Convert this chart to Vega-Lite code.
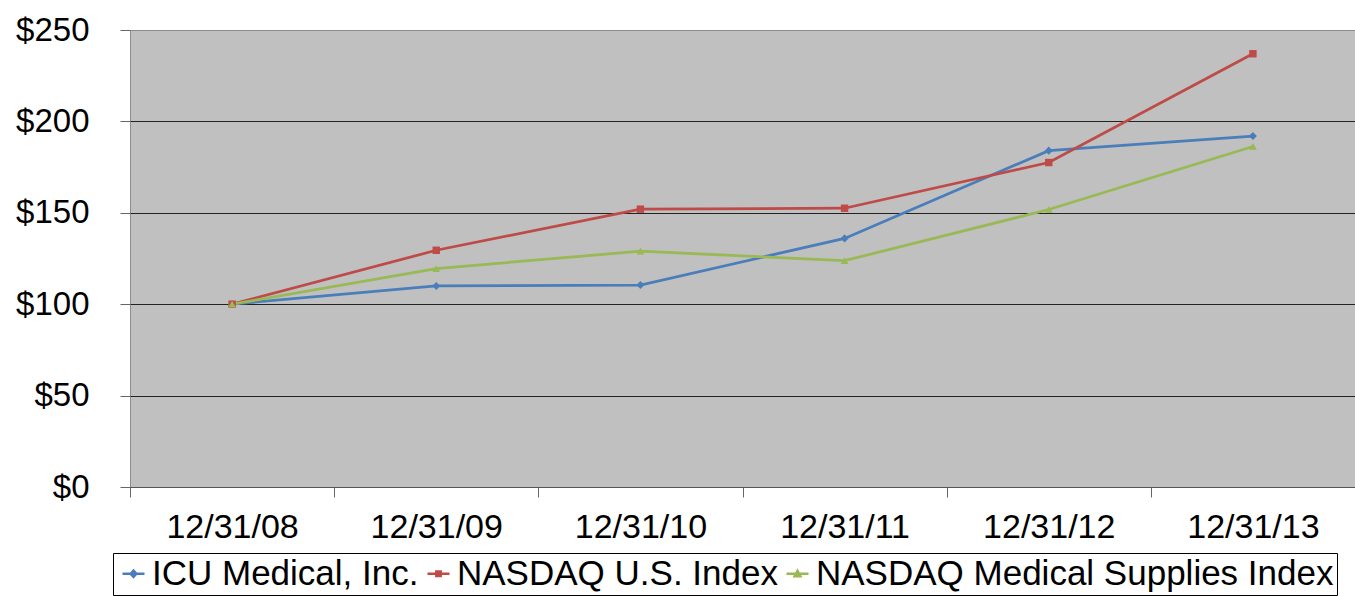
{
  "$schema": "https://vega.github.io/schema/vega-lite/v6.json",
  "width": 1225,
  "height": 457,
  "autosize": {"type": "none"},
  "padding": {"left": 130, "top": 30, "right": 0, "bottom": 109},
  "background": "white",
  "config": {
    "view": {"fill": "#c0c0c0", "stroke": "#8c8c8c", "strokeWidth": 1},
    "font": "Liberation Sans"
  },
  "data": {
    "values": [
      {"date": "12/31/08", "series": "ICU Medical, Inc.", "value": 100},
      {"date": "12/31/09", "series": "ICU Medical, Inc.", "value": 110},
      {"date": "12/31/10", "series": "ICU Medical, Inc.", "value": 110.5},
      {"date": "12/31/11", "series": "ICU Medical, Inc.", "value": 136},
      {"date": "12/31/12", "series": "ICU Medical, Inc.", "value": 184},
      {"date": "12/31/13", "series": "ICU Medical, Inc.", "value": 192},
      {"date": "12/31/08", "series": "NASDAQ U.S. Index", "value": 100},
      {"date": "12/31/09", "series": "NASDAQ U.S. Index", "value": 129.5},
      {"date": "12/31/10", "series": "NASDAQ U.S. Index", "value": 152},
      {"date": "12/31/11", "series": "NASDAQ U.S. Index", "value": 152.5},
      {"date": "12/31/12", "series": "NASDAQ U.S. Index", "value": 177.5},
      {"date": "12/31/13", "series": "NASDAQ U.S. Index", "value": 237},
      {"date": "12/31/08", "series": "NASDAQ Medical Supplies Index", "value": 100},
      {"date": "12/31/09", "series": "NASDAQ Medical Supplies Index", "value": 119.5},
      {"date": "12/31/10", "series": "NASDAQ Medical Supplies Index", "value": 129},
      {"date": "12/31/11", "series": "NASDAQ Medical Supplies Index", "value": 123.8},
      {"date": "12/31/12", "series": "NASDAQ Medical Supplies Index", "value": 151.8},
      {"date": "12/31/13", "series": "NASDAQ Medical Supplies Index", "value": 186.3}
    ]
  },
  "encoding": {
    "x": {
      "field": "date",
      "type": "ordinal",
      "sort": null,
      "scale": {"type": "band", "paddingInner": 0, "paddingOuter": 0},
      "axis": {
        "title": null,
        "labelAngle": 0,
        "labelFontSize": 34,
        "labelColor": "#000",
        "labelPadding": 13,
        "tickBand": "extent",
        "tickSize": 10,
        "tickColor": "#666",
        "domainColor": "#555",
        "grid": false
      }
    },
    "y": {
      "field": "value",
      "type": "quantitative",
      "scale": {"domain": [0, 250], "nice": false},
      "axis": {
        "title": null,
        "values": [0, 50, 100, 150, 200, 250],
        "format": "$.0f",
        "labelFontSize": 33,
        "labelColor": "#000",
        "labelPadding": 31,
        "tickSize": 10,
        "tickColor": "#666",
        "domain": false,
        "grid": true,
        "gridColor": {"condition": {"test": "datum.value == 250", "value": "#8c8c8c"}, "value": "#222"},
        "gridWidth": 1,
        "gridOpacity": 1
      }
    },
    "color": {
      "field": "series",
      "type": "nominal",
      "sort": ["ICU Medical, Inc.", "NASDAQ U.S. Index", "NASDAQ Medical Supplies Index"],
      "scale": {
        "domain": ["ICU Medical, Inc.", "NASDAQ U.S. Index", "NASDAQ Medical Supplies Index"],
        "range": ["#4a7ebb", "#be4b48", "#98b954"]
      },
      "legend": {
        "title": null,
        "orient": "none",
        "legendX": -17,
        "legendY": 523,
        "direction": "horizontal",
        "strokeColor": "#000",
        "padding": 3,
        "labelFontSize": 35,
        "labelColor": "#000",
        "labelLimit": 0,
        "labelOffset": 1,
        "columnPadding": 2,
        "symbolSize": 484,
        "symbolStrokeWidth": 2.5,
        "encode": {
          "symbols": {
            "update": {
              "shape": {"signal": "datum.value == 'ICU Medical, Inc.' ? 'M-1,0H1M-0.26,0L0,-0.28L0.26,0L0,0.28Z' : datum.value == 'NASDAQ U.S. Index' ? 'M-1,0H1M-0.2,-0.2H0.2V0.2H-0.2Z' : 'M-1,0H1M-0.26,0.22L0,-0.26L0.26,0.22Z'"},
              "fill": {"signal": "scale('color', datum.value)"},
              "stroke": {"signal": "scale('color', datum.value)"}
            }
          }
        }
      }
    }
  },
  "layer": [
    {
      "mark": {"type": "line", "strokeWidth": 2.75}
    },
    {
      "transform": [{"filter": "datum.series == 'ICU Medical, Inc.'"}],
      "mark": {"type": "point", "filled": true, "opacity": 1, "shape": "diamond", "size": 65}
    },
    {
      "transform": [{"filter": "datum.series == 'NASDAQ U.S. Index'"}],
      "mark": {"type": "point", "filled": true, "opacity": 1, "shape": "square", "size": 55}
    },
    {
      "transform": [{"filter": "datum.series == 'NASDAQ Medical Supplies Index'"}],
      "mark": {"type": "point", "filled": true, "opacity": 1, "shape": "triangle-up", "size": 60}
    }
  ]
}
